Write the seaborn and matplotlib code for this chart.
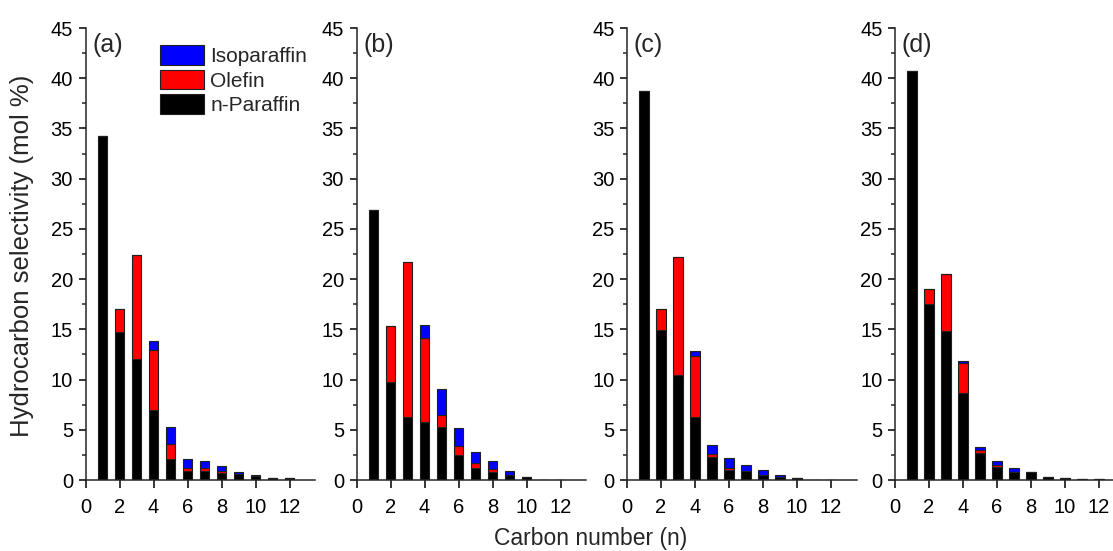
import numpy as np
import pandas as pd
import matplotlib
matplotlib.use("Agg")
import matplotlib.pyplot as plt
from matplotlib.ticker import MultipleLocator
import seaborn as sns

carbon = list(range(1, 13))
panels = ["(a)", "(b)", "(c)", "(d)"]
types = ["Isoparaffin", "Olefin", "n-Paraffin"]

paraffin_a = [34.2, 14.7, 12.0, 7.0, 2.05, 0.9, 0.9, 0.7, 0.6, 0.4, 0.17, 0.15]
olefin_a = [0, 2.3, 10.4, 5.9, 1.5, 0.25, 0.25, 0.2, 0, 0, 0, 0]
iso_a = [0, 0, 0, 0.9, 1.7, 0.95, 0.75, 0.45, 0.2, 0.07, 0, 0]

paraffin_b = [26.9, 9.8, 6.3, 5.8, 5.3, 2.5, 1.15, 0.75, 0.45, 0.25, 0, 0]
olefin_b = [0, 5.5, 15.4, 8.3, 1.2, 0.9, 0.5, 0.3, 0, 0, 0, 0]
iso_b = [0, 0, 0, 1.3, 2.6, 1.75, 1.15, 0.85, 0.45, 0, 0, 0]

paraffin_c = [38.7, 14.9, 10.45, 6.3, 2.25, 0.95, 0.9, 0.5, 0.3, 0.23, 0, 0]
olefin_c = [0, 2.1, 11.75, 6.0, 0.3, 0.2, 0, 0, 0, 0, 0, 0]
iso_c = [0, 0, 0, 0.5, 0.9, 1.0, 0.6, 0.5, 0.15, 0, 0, 0]

paraffin_d = [40.7, 17.5, 14.86, 8.7, 2.7, 1.25, 0.8, 0.77, 0.3, 0.15, 0.1, 0.1]
olefin_d = [0, 1.5, 5.6, 2.9, 0.25, 0.25, 0, 0, 0, 0, 0, 0]
iso_d = [0, 0, 0, 0.25, 0.3, 0.35, 0.4, 0, 0, 0, 0, 0]

x_ticks = [0, 2, 4, 6, 8, 10, 12]
y_ticks = [0, 5, 10, 15, 20, 25, 30, 35, 40, 45]

series = {
    "(a)": (iso_a, olefin_a, paraffin_a),
    "(b)": (iso_b, olefin_b, paraffin_b),
    "(c)": (iso_c, olefin_c, paraffin_c),
    "(d)": (iso_d, olefin_d, paraffin_d),
}

rows = []
for p in panels:
    for t, vals in zip(types, series[p]):
        for n, v in zip(carbon, vals):
            rows.append({"panel": p, "type": t, "n": n, "value": v})
df = pd.DataFrame(rows)

sns.set_style("ticks")
plt.rcParams["font.family"] = ["Liberation Sans", "DejaVu Sans"]
plt.rcParams["axes.linewidth"] = 1.1

W, H = 1113, 551
fig = plt.figure(figsize=(W / 100, H / 100), dpi=100)
fig.patch.set_facecolor("white")

lefts = [85.5, 356.5, 627, 895]
ax_w = 13.5 * 17
bottom_px = 71
height_px = 452
palette = {"Isoparaffin": "#0000ff", "Olefin": "#ff0000", "n-Paraffin": "#000000"}

for i, p in enumerate(panels):
    ax = fig.add_axes([lefts[i] / W, bottom_px / H, ax_w / W, height_px / H])
    sub = df[df["panel"] == p]
    sns.histplot(
        data=sub, x="n", weights="value", hue="type", hue_order=types,
        multiple="stack", discrete=True, shrink=0.55, palette=palette,
        alpha=1, edgecolor="#202020", linewidth=0.8, ax=ax, legend=(i == 0),
    )
    ax.set_xlim(0, 13.5)
    ax.set_ylim(0, 45)
    ax.set_xticks(x_ticks)
    ax.set_yticks(y_ticks)
    ax.yaxis.set_minor_locator(MultipleLocator(2.5))
    ax.set_xlabel("")
    ax.set_ylabel("")
    sns.despine(ax=ax)
    ax.tick_params(axis="both", which="major", direction="out", length=5,
                   width=1.1, labelsize=14.5, pad=4, colors="black")
    ax.tick_params(axis="x", which="major", length=6, pad=7)
    ax.tick_params(axis="y", which="minor", direction="out", length=3, width=1.1)
    ax.set_facecolor("white")
    ax.text(0.4, 43.3, p, fontsize=18, ha="left", va="center")
    if i == 0:
        sns.move_legend(ax, "upper left", bbox_to_anchor=(0.325, 0.962),
                        title=None, frameon=False, fontsize=15,
                        handlelength=2.1, handleheight=1.06,
                        labelspacing=0.18, handletextpad=0.3, borderpad=0,
                        borderaxespad=0)

fig.text(22 / W, 1 - 256 / H, "Hydrocarbon selectivity (mol %)", rotation=90,
         ha="center", va="center", fontsize=18.5)
fig.text(591 / W, 1 - 538 / H, "Carbon number (n)", ha="center", va="center",
         fontsize=16.5)

fig.savefig("out.png", dpi=100, facecolor="white")
